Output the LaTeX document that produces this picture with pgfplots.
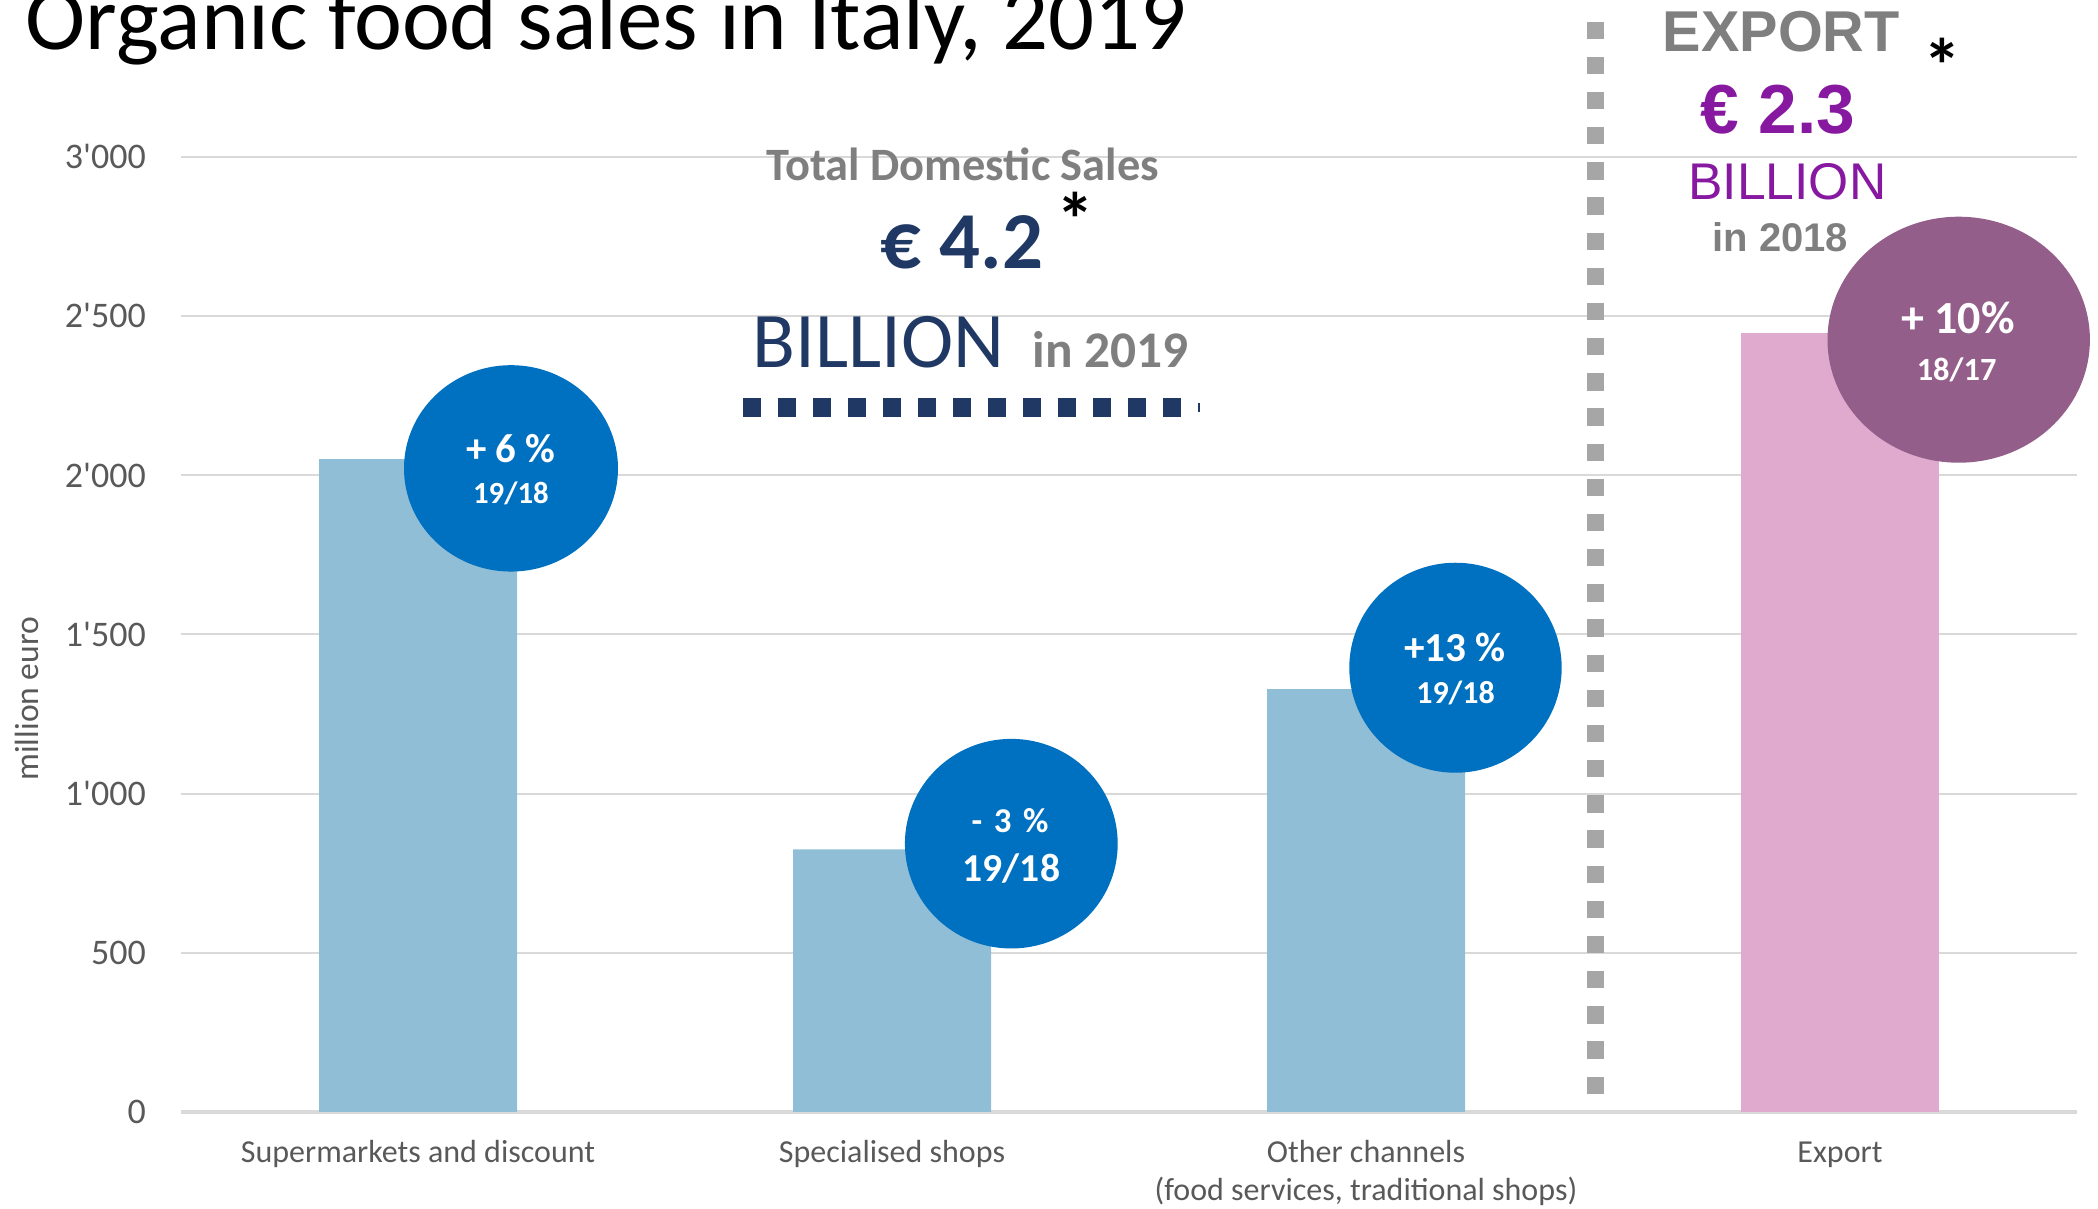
\documentclass[border=0pt]{standalone}
\usepackage{pgfplots}
\pgfplotsset{compat=1.18}
\usepackage{fontspec}
\setmainfont{Carlito}
\newfontfamily\arialfont{Liberation Sans}
\definecolor{barblue}{HTML}{8FBED6}
\definecolor{barpink}{HTML}{DFAACE}
\definecolor{circblue}{HTML}{0070C0}
\definecolor{circpurple}{HTML}{935E8A}
\definecolor{navy}{HTML}{203864}
\definecolor{txtgray}{HTML}{7F7F7F}
\definecolor{tickgray}{HTML}{595959}
\definecolor{gridgray}{HTML}{D9D9D9}
\definecolor{dashgray}{HTML}{A6A6A6}
\definecolor{violet2}{HTML}{8718A0}
\newcommand{\fs}[1]{\fontsize{#1pt}{#1pt}\selectfont}
\begin{document}
\begin{tikzpicture}
\begin{axis}[
  at={(45.25pt,24.25pt)}, anchor=south west,
  scale only axis, width=474pt, height=238.85pt,
  xmin=-0.5, xmax=3.5, ymin=0, ymax=3000,
  clip=false,
  axis lines=left,
  x axis line style={-, draw=gridgray, line width=0.8pt},
  y axis line style={draw=none},
  major tick length=0pt,
  ymajorgrids, grid style={draw=gridgray, line width=0.5pt},
  ytick={0,500,1000,1500,2000,2500,3000},
  yticklabel style={font=\fs{9}, text=tickgray, anchor=east, inner sep=0pt, xshift=-8.6pt},
  /pgf/number format/assume math mode=true,
  /pgf/number format/1000 sep={\textquotesingle},
  xtick={0,1,2,3},
  xticklabels={Supermarkets and discount, Specialised shops, {\begin{tabular}[t]{@{}c@{}}Other channels\\(food services, traditional shops)\end{tabular}}, Export},
  xticklabel style={font=\fontsize{8pt}{9.5pt}\selectfont, text=tickgray, anchor=base, inner sep=0pt, yshift=-12.7pt},
]
% bars
\addplot[ybar, bar width=49.5pt, bar shift=0pt, fill=barblue, draw=none] coordinates {(0,2050) (1,825) (2,1328)};
\addplot[ybar, bar width=49.5pt, bar shift=0pt, fill=barpink, draw=none] coordinates {(3,2445)};

% separators
\draw[dashgray, line width=4.33pt, dash pattern=on 4.33pt off 4.46pt] (axis cs:2.4838,3423.6) -- (axis cs:2.4838,56.5);
\draw[navy, line width=4.6pt, dash pattern=on 4.5pt off 4.25pt] (axis cs:0.6857,2212) -- (axis cs:1.6097,2212);
\draw[navy, line width=0.3pt] (axis cs:1.6475,2197) -- (axis cs:1.6475,2227);

% circles
\fill[circblue] (axis cs:0.1962,2021) ellipse [x radius=26.75pt, y radius=25.8pt];
\fill[circblue] (axis cs:1.2517,842.5) ellipse [x radius=26.6pt, y radius=26.2pt];
\fill[circblue] (axis cs:2.1888,1395) ellipse [x radius=26.55pt, y radius=26.25pt];
\fill[circpurple] (axis cs:3.2504,2425) ellipse [x radius=32.8pt, y radius=30.75pt];

\node[anchor=base, text=white, font=\bfseries\fs{10.2}] at (axis cs:0.196,2039) {+ 6 \%};
\node[anchor=base, text=white, font=\bfseries\fs{7.7}] at (axis cs:0.196,1912) {19/18};
\node[anchor=base, text=white, font=\bfseries\fs{8.7}] at (axis cs:1.249,878) {-\,\,3\,\,\%};
\node[anchor=base, text=white, font=\bfseries\fs{9.9}] at (axis cs:1.252,725) {19/18};
\node[anchor=base, text=white, font=\bfseries\fs{10.3}] at (axis cs:2.188,1416) {+13 \%};
\node[anchor=base, text=white, font=\bfseries\fs{8}] at (axis cs:2.189,1283) {19/18};
\node[anchor=base, text=white, font=\bfseries\fs{11.5}] at (axis cs:3.249,2443) {+ 10\%};
\node[anchor=base, text=white, font=\bfseries\fs{8.1}] at (axis cs:3.246,2298) {18/17};

% domestic annotation
\node[anchor=base, text=txtgray, font=\bfseries\fs{11.6}] at (axis cs:1.149,2926.5) {Total Domestic Sales};
\node[anchor=base, text=navy, font=\bfseries\fs{20.2}] at (axis cs:1.147,2650) {€ 4.2};
\node[anchor=base, text=black, font=\bfseries\fs{19}] at (axis cs:1.386,2717) {*};
\node[anchor=base west, inner sep=0pt, text=navy, font=\fs{19.7}] at (axis cs:0.705,2339) {BILLION};
\node[anchor=base west, inner sep=0pt, text=txtgray, font=\bfseries\fs{12.85}] at (axis cs:1.2954,2339) {in 2019};

% export annotation
\node[anchor=base, text=txtgray, font=\arialfont\bfseries\fs{14.4}] at (axis cs:2.876,3329) {EXPORT};
\node[anchor=base, text=black, font=\bfseries\fs{19}] at (axis cs:3.2165,3202) {*};
\node[anchor=base, text=violet2, font=\arialfont\bfseries\fs{17.35}] at (axis cs:2.869,3073) {€ 2.3};
\node[anchor=base, text=violet2, font=\arialfont\fs{12.9}] at (axis cs:2.889,2864) {BILLION};
\node[anchor=base, text=txtgray, font=\arialfont\bfseries\fs{10}] at (axis cs:2.874,2701) {in 2018};

% title and y label
\node[anchor=base west, inner sep=0pt, font=\fs{22.7}] at (axis cs:-0.829,3336) {Organic food sales in Italy, 2019};
\node[rotate=90, anchor=base, inner sep=0pt, text=tickgray, font=\fs{8.4}] at (axis cs:-0.801,1298) {million euro};
\end{axis}
\pgfresetboundingbox
\path[use as bounding box] (0,0) rectangle (524.5pt,302.25pt);
\end{tikzpicture}
\end{document}
